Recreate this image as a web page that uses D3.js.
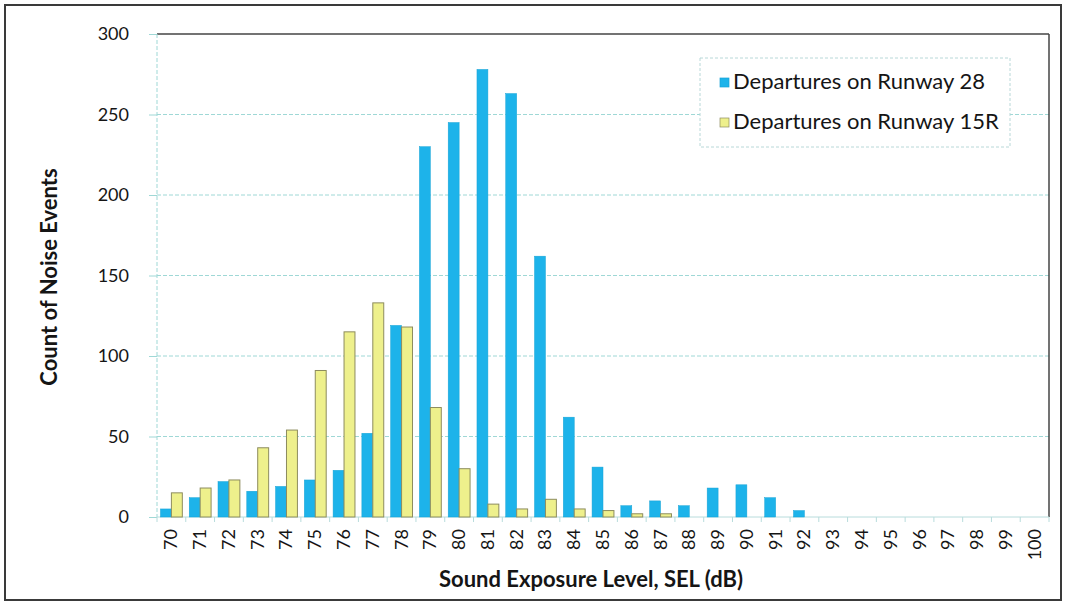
<!DOCTYPE html>
<html><head><meta charset="utf-8">
<script src="https://cdn.jsdelivr.net/npm/d3@7"></script>
<style>body{margin:0;background:#fff}svg{display:block}</style>
</head><body><svg id="c" width="1067" height="605"></svg>
<script>
const categories = d3.range(70,101).map(String);
const seriesNames = ["Departures on Runway 28","Departures on Runway 15R"];
const runway28 = [5,12,22,16,19,23,29,52,119,230,245,278,263,162,62,31,7,10,7,18,20,12,4,0,0,0,0,0,0,0,0];
const runway15R = [15,18,23,43,54,91,115,133,118,68,30,8,5,11,5,4,2,2,0,0,0,0,0,0,0,0,0,0,0,0,0];
const yTicks = [0,50,100,150,200,250,300];
const colors = ["#1db3ea","#eef08c"];
const strokes = ["#17a3d6","#8d8c5e"];

const svg = d3.select("#c");
const L=157,R=1049,T=34,B=517;
const font="Lato, 'Open Sans', sans-serif";
const ink="#151515";

svg.append("rect").attr("x",5).attr("y",5).attr("width",1056).attr("height",595)
  .attr("fill","#fff").attr("stroke","#3a3a3a").attr("stroke-width",2);

const x0 = d3.scaleBand().domain(categories).range([L,R]).paddingInner(0.24).paddingOuter(0.12);
const x1 = d3.scaleBand().domain([0,1]).range([0,x0.bandwidth()]);
const y = d3.scaleLinear().domain([0,300]).range([B,T]);

// gridlines
svg.append("g").selectAll("line").data(yTicks.filter(d=>d>0 && d<300)).join("line")
  .attr("x1",L).attr("x2",R).attr("y1",d=>y(d)).attr("y2",d=>y(d))
  .attr("stroke","#9fd8d6").attr("stroke-width",1).attr("stroke-dasharray","4,2");
// plot borders
svg.append("line").attr("x1",L).attr("x2",R).attr("y1",y(300)).attr("y2",y(300)).attr("stroke","#444").attr("stroke-width",1.5);
svg.append("line").attr("x1",R).attr("x2",R).attr("y1",y(300)).attr("y2",y(0)).attr("stroke","#444").attr("stroke-width",1.5);
svg.append("line").attr("x1",L).attr("x2",L).attr("y1",y(300)).attr("y2",y(0)).attr("stroke","#9fd8d6").attr("stroke-dasharray","4,2");
svg.append("line").attr("x1",L).attr("x2",R).attr("y1",y(0)).attr("y2",y(0)).attr("stroke","#b8dcdc");

// y axis
const yAxis = svg.append("g").attr("transform",`translate(${L},0)`)
  .call(d3.axisLeft(y).tickValues(yTicks).tickSize(8).tickPadding(20));
yAxis.select(".domain").remove();
yAxis.selectAll(".tick line").attr("stroke","#9fd8d6");
yAxis.selectAll("text").attr("font-family",font).attr("font-size",18).attr("fill",ink);

// x ticks at band boundaries
const step = x0.step();
const bounds = categories.map(c=>x0(c)-step*x0.paddingInner()/2).concat([R]);
svg.append("g").selectAll("line").data(bounds).join("line")
  .attr("x1",d=>d).attr("x2",d=>d).attr("y1",B).attr("y2",B+5).attr("stroke","#b8dcdc");
// x labels
svg.append("g").selectAll("text").data(categories).join("text")
  .attr("transform",d=>`translate(${x0(d)+x0.bandwidth()/2+6},${B+12}) rotate(-90)`)
  .attr("text-anchor","end").attr("font-family",font).attr("font-size",18).attr("fill",ink)
  .text(d=>d);

// bars
const series=[runway28,runway15R];
series.forEach((vals,si)=>{
  svg.append("g").selectAll("rect").data(categories.map((c,i)=>({c,v:vals[i]})).filter(d=>d.v>0)).join("rect")
    .attr("x",d=>x0(d.c)+x1(si)).attr("width",x1.bandwidth())
    .attr("y",d=>y(d.v)).attr("height",d=>y(0)-y(d.v))
    .attr("fill",colors[si]).attr("stroke",strokes[si]).attr("stroke-width",si===1?1:0.5);
});

// axis titles
svg.append("text").attr("x",591).attr("y",587).attr("text-anchor","middle")
  .attr("font-family",font).attr("font-weight","bold").attr("font-size",22).attr("fill",ink)
  .text("Sound Exposure Level, SEL (dB)");
svg.append("text").attr("transform","translate(57,277) rotate(-90)").attr("text-anchor","middle")
  .attr("font-family",font).attr("font-weight","bold").attr("font-size",22).attr("fill",ink)
  .text("Count of Noise Events");

// legend
const lg = svg.append("g");
lg.append("rect").attr("x",700).attr("y",58).attr("width",310).attr("height",89)
  .attr("fill","#fff").attr("stroke","#b8d8d8").attr("stroke-dasharray","3,2");
seriesNames.forEach((n,i)=>{
  const yy = 81 + i*40;
  lg.append("rect").attr("x",720).attr("y",yy-3).attr("width",9).attr("height",9)
    .attr("fill",colors[i]).attr("stroke",strokes[i]).attr("stroke-width",0.7);
  lg.append("text").attr("x",733).attr("y",yy+8).attr("font-family",font).attr("font-size",22).attr("fill",ink).text(n);
});
</script></body></html>
